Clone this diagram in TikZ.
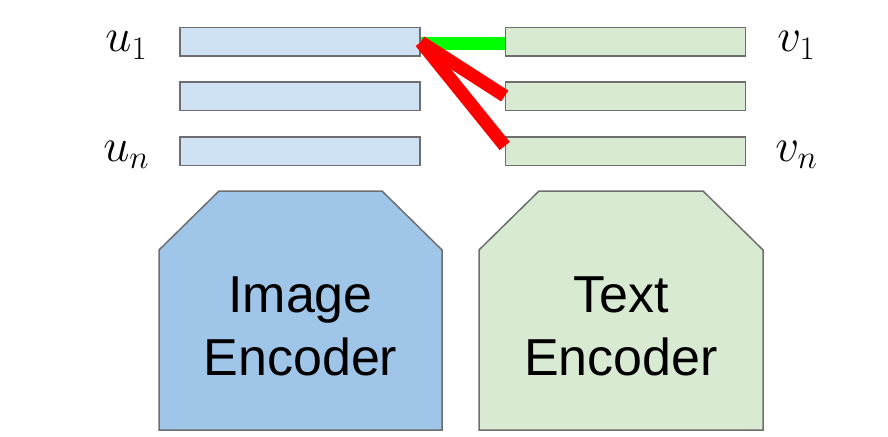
\RequirePackage{fix-cm}
\documentclass[tikz,border=0pt]{standalone}
\usepackage{fontspec}
\newfontfamily\encfont{Liberation Sans}
\usetikzlibrary{calc}

\definecolor{ublue}{HTML}{CFE2F3}
\definecolor{vgreen}{HTML}{D9EAD3}
\definecolor{encblue}{HTML}{9FC5E8}
\definecolor{encgreen}{HTML}{D9EAD3}
\definecolor{edgegrey}{HTML}{6E6E6E}
\definecolor{matchgreen}{HTML}{00FF00}
\definecolor{missred}{HTML}{FF0000}

\begin{document}
\begin{tikzpicture}[x=1pt, y=-1pt,
  bar/.style={draw=edgegrey, line width=1.5pt, minimum width=240pt, minimum height=28.5pt, inner sep=0pt},
  veclabel/.style={font=\fontsize{47}{50}\selectfont, inner sep=0pt, anchor=base},
  encshape/.style={draw=edgegrey, line width=1.5pt},
  enctext/.style={font=\encfont\fontsize{52}{63}\selectfont, align=center, inner sep=0pt},
  match/.style={line width=13pt, matchgreen},
  mismatch/.style={line width=13pt, missred}]
\useasboundingbox (0,0) rectangle (888,436);

% Embedding bars
\foreach \i/\y in {1/42, 2/96, 3/151} {
  \node[bar, fill=ublue] (u\i) at (300,\y) {};
  \node[bar, fill=vgreen] (v\i) at (625.5,\y) {};
}

% Labels
\node[veclabel] (lu1) at ([xshift=-53pt,yshift=-10pt]u1.west) {$u_1$};
\node[veclabel] (lun) at ([xshift=-53pt,yshift=-10pt]u3.west) {$u_n$};
\node[veclabel] (lv1) at ([xshift=50pt,yshift=-10pt]v1.east) {$v_1$};
\node[veclabel] (lvn) at ([xshift=50pt,yshift=-10pt]v3.east) {$v_n$};

% Pairings
\draw[match] ([yshift=-2pt]u1.east) -- ([yshift=-2pt]v1.west);
\draw[mismatch] (u1.east) -- (v2.west);
\draw[mismatch] (u1.east) -- ([yshift=5pt]v3.west);

% Encoders
\draw[encshape, fill=encblue] (159,430) -- (159,250) -- (219,191) -- (382,191) -- (442,250) -- (442,430) -- cycle;
\node[enctext] (imgenc) at (300.5,326) {Image\\Encoder};

\draw[encshape, fill=encgreen] (479,430) -- (479,250) -- (539,191) -- (703,191) -- (763,250) -- (763,430) -- cycle;
\node[enctext] (txtenc) at (621,326) {Text\\Encoder};
\end{tikzpicture}
\end{document}
